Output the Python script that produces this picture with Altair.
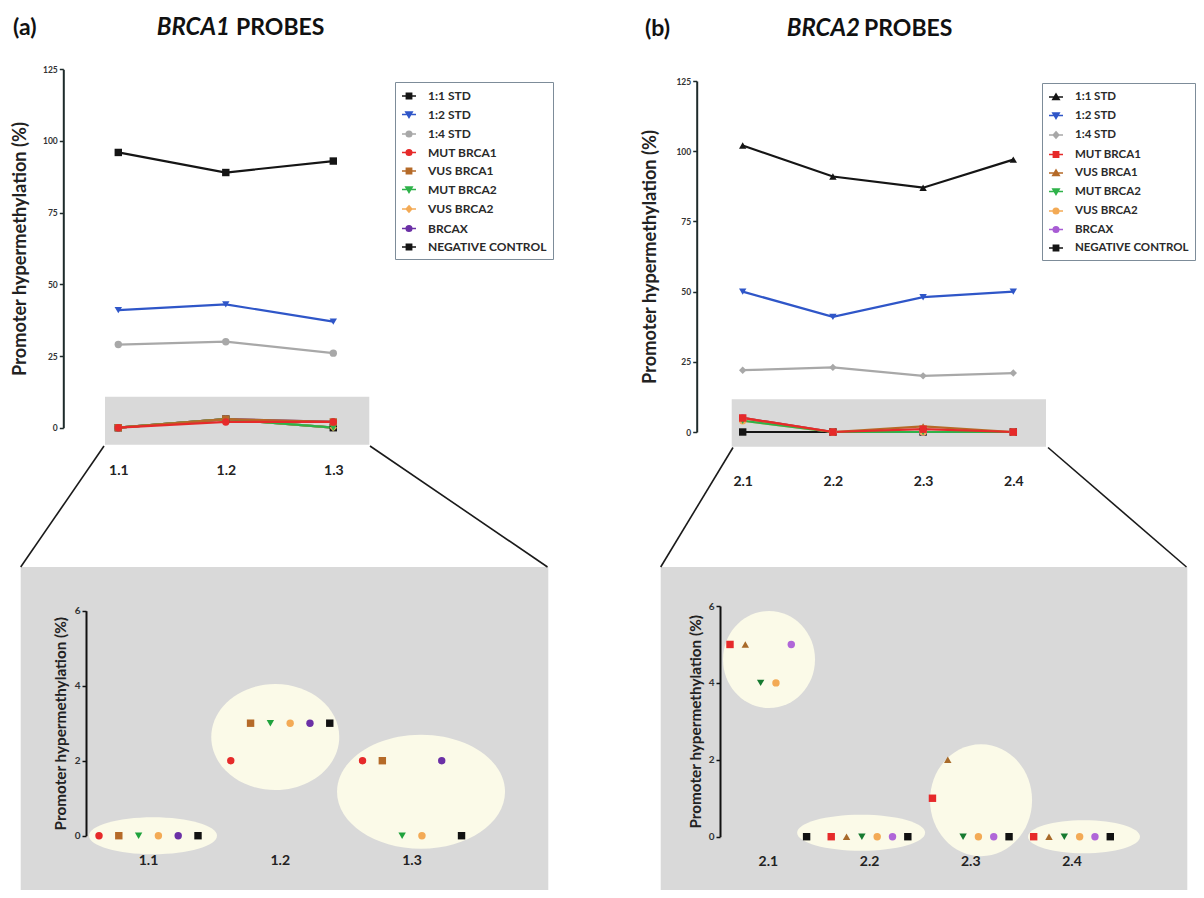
import altair as alt
import pandas as pd

# ---------------- data ----------------
PROBES_A = ["1.1", "1.2", "1.3"]
PROBES_B = ["2.1", "2.2", "2.3", "2.4"]
SERIES = ["1:1 STD", "1:2 STD", "1:4 STD", "MUT BRCA1", "VUS BRCA1",
          "MUT BRCA2", "VUS BRCA2", "BRCAX", "NEGATIVE CONTROL"]
LOW = ["MUT BRCA1", "VUS BRCA1", "MUT BRCA2", "VUS BRCA2", "BRCAX", "NEGATIVE CONTROL"]

A_STD_1_1 = [96, 89, 93]
A_STD_1_2 = [41, 43, 37]
A_STD_1_4 = [29, 30, 26]
A_MUT_BRCA1 = [0, 2, 2]
A_VUS_BRCA1 = [0, 3, 2]
A_MUT_BRCA2 = [0, 3, 0]
A_VUS_BRCA2 = [0, 3, 0]
A_BRCAX = [0, 3, 2]
A_NEG = [0, 3, 0]

B_STD_1_1 = [102, 91, 87, 97]
B_STD_1_2 = [50, 41, 48, 50]
B_STD_1_4 = [22, 23, 20, 21]
B_MUT_BRCA1 = [5, 0, 1, 0]
B_VUS_BRCA1 = [5, 0, 2, 0]
B_MUT_BRCA2 = [4, 0, 0, 0]
B_VUS_BRCA2 = [4, 0, 0, 0]
B_BRCAX = [5, 0, 0, 0]
B_NEG = [0, 0, 0, 0]

Y_TITLE = "Promoter hypermethylation (%)"

# ---------------- styles ----------------
COLORS_A = ["#151515", "#2f56c8", "#a8a8a8", "#e62a2a", "#b56a28",
            "#2fb24a", "#f3aa55", "#6b30a6", "#151515"]
SHAPES_A = ["square", "triangle-down", "circle", "circle", "square",
            "triangle-down", "diamond", "circle", "square"]
COLORS_B = ["#151515", "#2f56c8", "#a8a8a8", "#e62a2a", "#b56a28",
            "#2fb24a", "#f3aa55", "#a85cd4", "#151515"]
SHAPES_B = ["triangle-up", "triangle-down", "diamond", "square", "triangle-up",
            "triangle-down", "circle", "circle", "square"]
LOW_COLORS_A = ["#e62a2a", "#b56a28", "#1fa23c", "#f3aa55", "#6b30a6", "#111111"]
LOW_SHAPES_A = ["circle", "square", "triangle-down", "circle", "circle", "square"]
LOW_COLORS_B = ["#e62a2a", "#a86a2a", "#167a30", "#f3aa55", "#b066d8", "#111111"]
LOW_SHAPES_B = ["square", "triangle-up", "triangle-down", "circle", "circle", "square"]
WIDTHS = [2.2, 2.2, 1.6, 2, 2, 2, 2, 2, 2]

LEG_PATH = {
    "square": "M-1,0H1M-0.38,-0.38H0.38V0.38H-0.38Z",
    "circle": "M-1,0H1M-0.4,0A0.4,0.4,0,1,0,0.4,0A0.4,0.4,0,1,0,-0.4,0Z",
    "triangle-down": "M-1,0H1M-0.46,-0.36H0.46L0,0.44Z",
    "triangle-up": "M-1,0H1M-0.46,0.36H0.46L0,-0.44Z",
    "diamond": "M-1,0H1M0,-0.46L0.4,0L0,0.46L-0.4,0Z",
}

GRAY = "#d9d9d9"
CREAM = "#fbfae8"
AXIS_COL = "#1e2b2b"
dummy = pd.DataFrame({"k": [0]})


def long_df(probes, pairs):
    rows = []
    for name, vals in pairs:
        for p, v in zip(probes, vals):
            rows.append({"probe": p, "series": name, "value": v})
    return pd.DataFrame(rows)


dfA = long_df(PROBES_A, [("1:1 STD", A_STD_1_1), ("1:2 STD", A_STD_1_2), ("1:4 STD", A_STD_1_4),
                         ("NEGATIVE CONTROL", A_NEG), ("BRCAX", A_BRCAX), ("VUS BRCA2", A_VUS_BRCA2),
                         ("MUT BRCA2", A_MUT_BRCA2), ("VUS BRCA1", A_VUS_BRCA1), ("MUT BRCA1", A_MUT_BRCA1)])
dfB = long_df(PROBES_B, [("1:1 STD", B_STD_1_1), ("1:2 STD", B_STD_1_2), ("1:4 STD", B_STD_1_4),
                         ("NEGATIVE CONTROL", B_NEG), ("BRCAX", B_BRCAX), ("VUS BRCA2", B_VUS_BRCA2),
                         ("MUT BRCA2", B_MUT_BRCA2), ("VUS BRCA1", B_VUS_BRCA1), ("MUT BRCA1", B_MUT_BRCA1)])
lowA = long_df(PROBES_A, [("MUT BRCA1", A_MUT_BRCA1), ("VUS BRCA1", A_VUS_BRCA1), ("MUT BRCA2", A_MUT_BRCA2),
                          ("VUS BRCA2", A_VUS_BRCA2), ("BRCAX", A_BRCAX), ("NEGATIVE CONTROL", A_NEG)])
lowB = long_df(PROBES_B, [("MUT BRCA1", B_MUT_BRCA1), ("VUS BRCA1", B_VUS_BRCA1), ("MUT BRCA2", B_MUT_BRCA2),
                          ("VUS BRCA2", B_VUS_BRCA2), ("BRCAX", B_BRCAX), ("NEGATIVE CONTROL", B_NEG)])


def ellipse_path(w, h):
    r = h / w
    k = 0.5523
    return (f"M1,0C1,{k*r:.4f} {k},{r:.4f} 0,{r:.4f}C{-k},{r:.4f} -1,{k*r:.4f} -1,0"
            f"C-1,{-k*r:.4f} {-k},{-r:.4f} 0,{-r:.4f}C{k},{-r:.4f} 1,{-k*r:.4f} 1,0Z")


def ellipse_df(specs, half_band):
    rows = []
    for probe, dx, yc, w, h in specs:
        rows.append({"probe": probe, "dx": dx + half_band, "yc": yc, "sz": w * w,
                     "path": ellipse_path(w, h)})
    return pd.DataFrame(rows)


def top_panel(df, probes, colors, shapes, x_range, y_range, y_off, title_x, x_off, box, legend_xy, leg_font):
    xs = alt.Scale(type="point", domain=probes, range=x_range, padding=0)
    ys = alt.Scale(domain=[0, 125], range=y_range, nice=False, zero=False)
    x_axis = alt.Axis(orient="bottom", offset=x_off, domain=False, ticks=False, grid=False,
                      labelPadding=0, labelAngle=0, labelFontSize=14, labelFontWeight="bold",
                      labelColor="#222222", title=None, zindex=1)
    y_axis = alt.Axis(orient="left", offset=y_off, values=[0, 25, 50, 75, 100, 125], grid=False,
                      domainColor=AXIS_COL, domainWidth=2, tickColor=AXIS_COL, tickWidth=1.5,
                      tickSize=4, labelFontSize=8.5, labelFontWeight="bold", labelColor="#333333",
                      labelPadding=2, title=Y_TITLE, titleFontSize=18.2, titleFontWeight="bold",
                      titleColor="#222222", titleX=title_x, titleBaseline="middle", zindex=1)
    col = alt.Scale(domain=SERIES, range=colors)
    bx = alt.Chart(dummy).mark_rect(color=GRAY).encode(
        x=alt.value(box[0]), x2=alt.value(box[1]), y=alt.value(box[2]), y2=alt.value(box[3]))
    lines = alt.Chart(df).mark_line().encode(
        x=alt.X("probe:N", scale=xs, axis=x_axis),
        y=alt.Y("value:Q", scale=ys, axis=y_axis),
        color=alt.Color("series:N", scale=col, legend=None),
        strokeWidth=alt.StrokeWidth("series:N", scale=alt.Scale(domain=SERIES, range=WIDTHS), legend=None),
    )
    pts = alt.Chart(df).mark_point(filled=True, opacity=1, size=55).encode(
        x=alt.X("probe:N", scale=xs, axis=None),
        y=alt.Y("value:Q", scale=ys, axis=None),
        fill=alt.Fill("series:N", scale=col, legend=None),
        shape=alt.Shape("series:N", scale=alt.Scale(domain=SERIES, range=shapes), legend=None),
    )
    leg = alt.Legend(orient="none", legendX=legend_xy[0], legendY=legend_xy[1], title=None,
                     labelFontSize=leg_font, labelFontWeight="bold", labelColor="#2a2a2a",
                     symbolSize=196, symbolStrokeWidth=1.5, rowPadding=4.5, padding=6,
                     strokeColor="#7d8c99", fillColor="white", labelOffset=11)
    legend_layer = alt.Chart(df).mark_point(filled=True, opacity=1).encode(
        fill=alt.Fill("series:N", scale=col, legend=leg),
        stroke=alt.Stroke("series:N", scale=col, legend=leg),
        shape=alt.Shape("series:N", scale=alt.Scale(domain=SERIES, range=[LEG_PATH[s] for s in shapes]),
                        legend=leg),
    ).transform_filter("false")
    return [bx, lines, pts, legend_layer]


def bottom_panel(df, probes, colors, shapes, rect, x_range, off_range, y_range, y_off, title_x, x_off, ells):
    xs = alt.Scale(type="band", domain=probes, range=x_range, paddingInner=0, paddingOuter=0)
    ys = alt.Scale(domain=[0, 6], range=y_range, nice=False, zero=False)
    half_band = (x_range[1] - x_range[0]) / len(probes) / 2
    x_axis = alt.Axis(orient="bottom", offset=x_off, domain=False, ticks=False, grid=False,
                      labelPadding=0, labelAngle=0, labelFontSize=14, labelFontWeight="bold",
                      labelColor="#222222", title=None, zindex=1)
    y_axis = alt.Axis(orient="left", offset=y_off, values=[0, 2, 4, 6], grid=False,
                      domainColor="#111111", domainWidth=2, tickColor="#111111", tickWidth=1.5,
                      tickSize=4, labelFontSize=10, labelFontWeight="bold", labelColor="#333333",
                      labelPadding=2, title=Y_TITLE, titleFontSize=15.3, titleFontWeight="bold",
                      titleColor="#222222", titleX=title_x, titleBaseline="middle", zindex=1)
    bg = alt.Chart(dummy).mark_rect(color=GRAY).encode(
        x=alt.value(rect[0]), x2=alt.value(rect[1]), y=alt.value(rect[2]), y2=alt.value(rect[3]))
    ell = alt.Chart(ellipse_df(ells, half_band)).mark_point(
        filled=True, opacity=1, color=CREAM, strokeWidth=0).encode(
        x=alt.X("probe:N", scale=xs, axis=None),
        xOffset=alt.XOffset("dx:Q", scale=None),
        y=alt.Y("yc:Q", scale=ys, axis=None),
        shape=alt.Shape("path:N", scale=None),
        size=alt.Size("sz:Q", scale=None),
    )
    pts = alt.Chart(df).mark_point(filled=True, opacity=1, size=55).encode(
        x=alt.X("probe:N", scale=xs, axis=x_axis),
        xOffset=alt.XOffset("series:N", scale=alt.Scale(type="point", domain=LOW, range=off_range, padding=0)),
        y=alt.Y("value:Q", scale=ys, axis=y_axis),
        fill=alt.Fill("series:N", scale=alt.Scale(domain=LOW, range=colors), legend=None),
        shape=alt.Shape("series:N", scale=alt.Scale(domain=LOW, range=shapes), legend=None),
    )
    return [bg, ell], [pts]


topA = top_panel(dfA, PROBES_A, COLORS_A, SHAPES_A, [110.3, 325.3], [419.7, 61.3], -55.3, -43.3, -427,
                 (97, 361.3, 388.7, 436.7), (387, 74), 12)
topB = top_panel(dfB, PROBES_B, COLORS_B, SHAPES_B, [734.7, 1005.3], [424, 73], -688.7, -46, -415.3,
                 (723.7, 1038, 391.3, 438.7), (1034, 75), 11.5)

botA_bg, botA_pts = bottom_panel(
    lowA, PROBES_A, LOW_COLORS_A, LOW_SHAPES_A, (12.7, 540.3, 559, 882),
    [74.6, 469.9], [16.4, 115.4], [827.7, 602.7], -78, -26, -37,
    [("1.1", 4.5, 0.0, 128, 37), ("1.2", -5, 2.63, 128, 106), ("1.3", 9, 1.17, 168, 114)])
botB_bg, botB_pts = bottom_panel(
    lowB, PROBES_B, LOW_COLORS_B, LOW_SHAPES_B, (652.7, 1179.3, 559, 882),
    [709.7, 1114.6], [12.3, 88.9], [828.7, 598], -712, -25, -35.3,
    [("2.1", 0.7, 4.61, 92, 97), ("2.2", -8.4, 0.1, 128, 36),
     ("2.3", 10.3, 0.95, 102, 112), ("2.4", 12, 0.0, 112, 33)])


def connector(x1, y1, x2, y2):
    return alt.Chart(dummy).mark_rule(color="#1a1a1a", strokeWidth=1.6).encode(
        x=alt.value(x1), y=alt.value(y1), x2=alt.value(x2), y2=alt.value(y2))


def label(txt, x, y, align, style="normal", size=23):
    return alt.Chart(dummy).mark_text(text=txt, fontSize=size, fontWeight="bold", fontStyle=style,
                                      align=align, baseline="alphabetic", color="#111111").encode(
        x=alt.value(x), y=alt.value(y))


decor = [
    connector(96, 438, 12.7, 559), connector(362, 438, 539.5, 559),
    connector(725, 439.5, 652.7, 559), connector(1040, 439.5, 1178.5, 559),
    label("(a)", 5, 27, "left"), label("BRCA1", 222, 27, "right", "italic", 24), label("PROBES", 228, 27, "left"),
    label("(b)", 637, 28, "left"), label("BRCA2", 852, 28, "right", "italic", 24), label("PROBES", 856, 28, "left"),
]

layers = botA_bg + botB_bg + topA + topB + botA_pts + botB_pts + decor

chart = alt.layer(*layers).resolve_scale(
    x="independent", y="independent", color="independent", fill="independent",
    stroke="independent", shape="independent", strokeWidth="independent",
    xOffset="independent", size="independent",
).resolve_axis(x="independent", y="independent").resolve_legend(
    color="independent", fill="independent", stroke="independent", shape="independent",
).properties(
    width=1188, height=882, padding=0, autosize=alt.AutoSizeParams(type="none"),
).configure(font="Lato", background="white").configure_view(stroke=None)

chart.save("out.html", embed_options={"renderer": "svg", "actions": False})
